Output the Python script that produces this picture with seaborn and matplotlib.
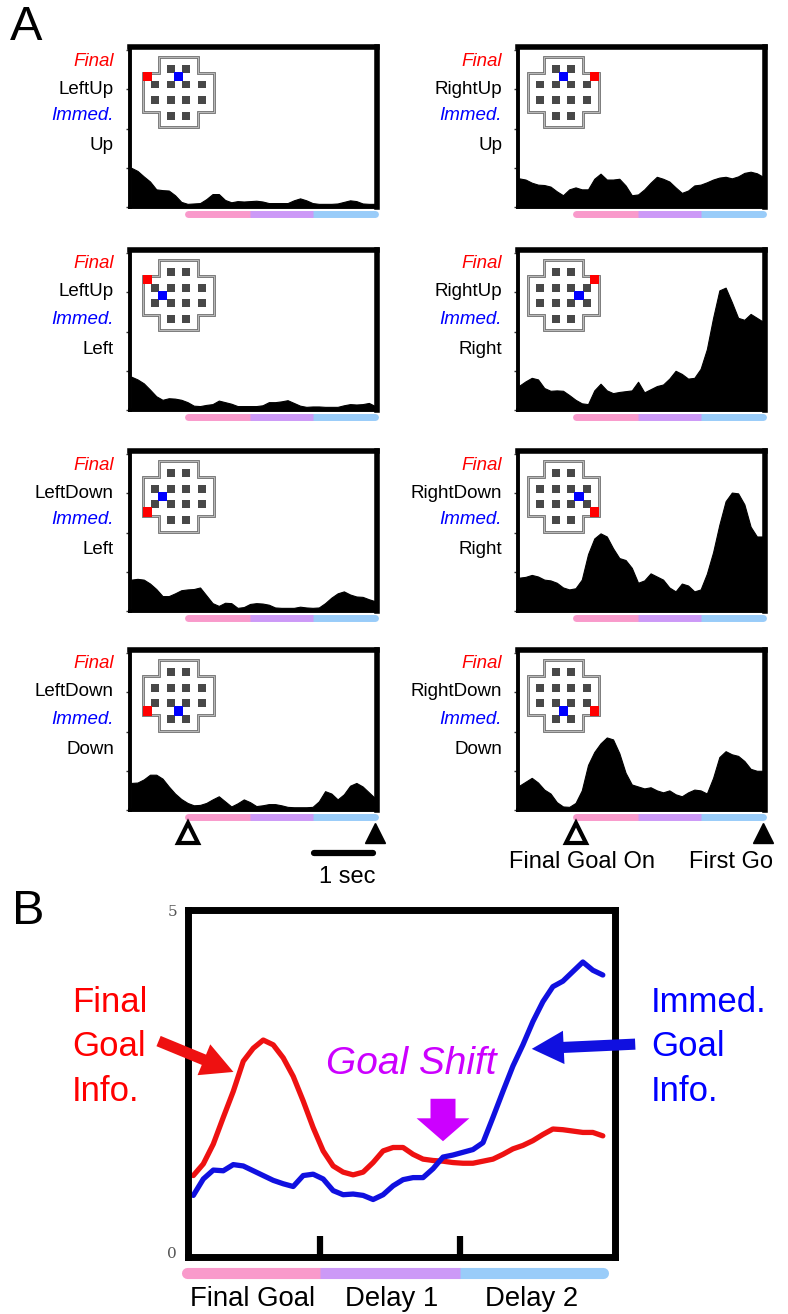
import numpy as np
import pandas as pd
import matplotlib
matplotlib.use("Agg")
import matplotlib.pyplot as plt
import matplotlib.patches as mpatches
import matplotlib.transforms as mtransforms
import seaborn as sns

# ---------------------------------------------------------------- data
# Panel A: peri-event firing histograms, bin centres in seconds
# relative to "Final Goal On" (0 s); "First Go" at 3 s.
t_a = np.round(np.arange(-0.9, 3.01, 0.1), 2)

left_up_up = [1.0, 0.92, 0.78, 0.65, 0.45, 0.43, 0.42, 0.3, 0.13, 0.08,
              0.09, 0.1, 0.2, 0.33, 0.33, 0.18, 0.12, 0.15, 0.14, 0.15,
              0.16, 0.14, 0.1, 0.1, 0.1, 0.1, 0.17, 0.22, 0.17, 0.1,
              0.08, 0.08, 0.08, 0.09, 0.13, 0.17, 0.15, 0.09, 0.08, 0.08]
left_up_left = [0.85, 0.78, 0.68, 0.52, 0.35, 0.26, 0.3, 0.29, 0.26, 0.2,
                0.11, 0.1, 0.13, 0.15, 0.24, 0.2, 0.16, 0.1, 0.1, 0.1,
                0.1, 0.12, 0.2, 0.2, 0.22, 0.25, 0.18, 0.11, 0.08, 0.09,
                0.09, 0.08, 0.08, 0.08, 0.12, 0.15, 0.14, 0.15, 0.18, 0.1]
left_down_left = [0.8, 0.82, 0.8, 0.7, 0.56, 0.38, 0.38, 0.45, 0.53, 0.55,
                  0.56, 0.6, 0.4, 0.2, 0.13, 0.21, 0.2, 0.08, 0.1, 0.18,
                  0.2, 0.19, 0.16, 0.09, 0.08, 0.08, 0.08, 0.11, 0.09, 0.08,
                  0.09, 0.2, 0.34, 0.45, 0.5, 0.42, 0.37, 0.36, 0.3, 0.25]
left_down_down = [0.69, 0.7, 0.78, 0.9, 0.9, 0.8, 0.6, 0.42, 0.28, 0.18,
                  0.12, 0.13, 0.18, 0.27, 0.35, 0.22, 0.09, 0.17, 0.27, 0.2,
                  0.1, 0.12, 0.15, 0.15, 0.12, 0.08, 0.07, 0.07, 0.07, 0.08,
                  0.22, 0.48, 0.42, 0.27, 0.4, 0.62, 0.69, 0.6, 0.45, 0.3]
right_up_up = [0.73, 0.7, 0.62, 0.57, 0.56, 0.52, 0.4, 0.3, 0.45, 0.5,
               0.45, 0.45, 0.72, 0.85, 0.7, 0.7, 0.72, 0.55, 0.3, 0.32,
               0.45, 0.62, 0.77, 0.72, 0.65, 0.5, 0.36, 0.42, 0.55, 0.57,
               0.63, 0.7, 0.75, 0.77, 0.73, 0.78, 0.87, 0.9, 0.86, 0.77]
right_up_right = [0.62, 0.73, 0.82, 0.78, 0.56, 0.49, 0.5, 0.49, 0.38, 0.26,
                  0.17, 0.15, 0.5, 0.67, 0.5, 0.43, 0.46, 0.48, 0.5, 0.72,
                  0.45, 0.53, 0.61, 0.65, 0.8, 1.0, 0.92, 0.8, 0.82, 1.05,
                  1.55, 2.35, 3.05, 3.12, 2.75, 2.35, 2.3, 2.45, 2.35, 2.25]
right_down_right = [0.85, 0.87, 0.92, 0.88, 0.8, 0.78, 0.72, 0.6, 0.55, 0.58,
                    0.8, 1.45, 1.85, 1.98, 1.9, 1.6, 1.35, 1.3, 1.1, 0.72,
                    0.78, 0.96, 0.88, 0.8, 0.6, 0.5, 0.7, 0.65, 0.5, 0.55,
                    0.95, 1.5, 2.2, 2.8, 3.02, 3.0, 2.72, 2.15, 1.9, 1.9]
right_down_down = [0.62, 0.72, 0.82, 0.7, 0.52, 0.42, 0.2, 0.09, 0.08, 0.18,
                   0.5, 1.15, 1.48, 1.7, 1.85, 1.8, 1.45, 0.95, 0.65, 0.6,
                   0.55, 0.58, 0.5, 0.45, 0.5, 0.4, 0.35, 0.45, 0.52, 0.5,
                   0.42, 0.82, 1.35, 1.5, 1.42, 1.38, 1.25, 1.05, 1.0, 1.0]

final_goals = ["LeftUp", "LeftUp", "LeftDown", "LeftDown",
               "RightUp", "RightUp", "RightDown", "RightDown"]
immed_goals = ["Up", "Left", "Left", "Down", "Up", "Right", "Right", "Down"]
histograms = [left_up_up, left_up_left, left_down_left, left_down_down,
              right_up_up, right_up_right, right_down_right, right_down_down]

epochs = ["Final Goal", "Delay 1", "Delay 2"]

# Panel B: population goal information over the trial (seconds)
t_b = np.linspace(0.095, 3.02, 42)
final_info = [1.12, 1.29, 1.58, 1.97, 2.35, 2.79, 2.98, 3.10, 3.03, 2.84,
              2.57, 2.21, 1.82, 1.48, 1.26, 1.17, 1.13, 1.17, 1.31, 1.48,
              1.53, 1.53, 1.43, 1.36, 1.34, 1.33, 1.31, 1.30, 1.30, 1.33,
              1.36, 1.43, 1.51, 1.56, 1.63, 1.72, 1.80, 1.79, 1.77, 1.75,
              1.75, 1.70]
immed_info = [0.83, 1.07, 1.20, 1.19, 1.28, 1.26, 1.19, 1.12, 1.05, 1.00,
              0.96, 1.12, 1.14, 1.07, 0.90, 0.84, 0.85, 0.83, 0.77, 0.84,
              0.97, 1.06, 1.09, 1.09, 1.22, 1.39, 1.42, 1.46, 1.50, 1.60,
              1.97, 2.35, 2.72, 3.03, 3.37, 3.66, 3.88, 3.96, 4.10, 4.24,
              4.12, 4.05]

# ---------------------------------------------------------------- style
sns.set_theme(style="white")
plt.rcParams["font.family"] = ["Liberation Sans", "DejaVu Sans"]
plt.rcParams["text.color"] = "black"

PINK, PURPLE, SKY = "#f99acb", "#cc99f7", "#99ccf9"
RED, BLUE, MAGENTA = "#ee1111", "#1010e0", "#cc00ff"
TXT_RED, TXT_BLUE = "#ff0000", "#0000ff"

W, H = 788, 1314
fig = plt.figure(figsize=(W / 100, H / 100), dpi=100)
fig.patch.set_facecolor("white")


def px_axes(x0, y0, w, h):
    """Axes placed by pixel box measured from the top-left corner."""
    return fig.add_axes([x0 / W, 1 - (y0 + h) / H, w / W, h / H])


def ftext(x, y, s, **kw):
    kw.setdefault("color", "black")
    fig.text(x / W, 1 - y / H, s, **kw)


def fxy(x, y):
    return (x / W, 1 - y / H)


def epoch_bar(ax, y, lw, spans):
    tr = mtransforms.blended_transform_factory(ax.transData, ax.transAxes)
    (a0, a1), (b0, b1), (c0, c1) = spans
    ax.plot([a0, a1], [y, y], color=PINK, lw=lw, solid_capstyle="round",
            transform=tr, clip_on=False)
    ax.plot([c0, c1], [y, y], color=SKY, lw=lw, solid_capstyle="round",
            transform=tr, clip_on=False)
    ax.plot([b0, b1], [y, y], color=PURPLE, lw=lw, solid_capstyle="butt",
            transform=tr, clip_on=False)


# Maze icon: cross-shaped arena with 12 squares, final target (red) and
# immediate step (blue) in grid units (column, row).
GRID_CELLS = [(1, 0), (2, 0), (0, 1), (1, 1), (2, 1), (3, 1),
              (0, 2), (1, 2), (2, 2), (3, 2), (1, 3), (2, 3)]
TARGET_POS = {"LeftUp": (-0.5, 0.5), "RightUp": (3.5, 0.5),
              "LeftDown": (-0.5, 2.5), "RightDown": (3.5, 2.5)}
STEP_POS = {"Up": (1.5, 0.5), "Left": (0.5, 1.5),
            "Right": (2.5, 1.5), "Down": (1.5, 2.5)}
OUTLINE = [(0.25, -0.75), (2.75, -0.75), (2.75, 0.25), (3.75, 0.25),
           (3.75, 2.75), (2.75, 2.75), (2.75, 3.75), (0.25, 3.75),
           (0.25, 2.75), (-0.75, 2.75), (-0.75, 0.25), (0.25, 0.25)]


def draw_icon(x0, y0, final, immed):
    cell = 15.6
    ax = px_axes(x0 - cell, y0 - cell, 5 * cell, 5 * cell)
    ax.set_xlim(-1, 4)
    ax.set_ylim(4, -1)
    ax.axis("off")
    ax.patch.set_alpha(0)
    ax.add_patch(mpatches.Polygon(OUTLINE, closed=True, fill=False,
                                  edgecolor="#707070", lw=2.0))
    ax.add_patch(mpatches.Polygon(OUTLINE, closed=True, fill=False,
                                  edgecolor="#d8d8d8", lw=0.5))
    s = 0.5
    for c, r in GRID_CELLS:
        ax.add_patch(mpatches.Rectangle((c - s / 2, r - s / 2), s, s,
                                        color="#484848", lw=0))
    s2 = 0.58
    for (c, r), col in ((TARGET_POS[final], "#ff0000"),
                        (STEP_POS[immed], "#0000ff")):
        ax.add_patch(mpatches.Rectangle((c - s2 / 2, r - s2 / 2), s2, s2,
                                        color=col, lw=0))


# ---------------------------------------------------------------- panel A
COL_X = [130, 518]
ROW_Y = [47, 250, 451, 650]
FW, FH = 247, 160

bottom_axes = []
for i, (final, immed, vals) in enumerate(zip(final_goals, immed_goals,
                                             histograms)):
    col, row = divmod(i, 4)
    x0, y0 = COL_X[col], ROW_Y[row]
    ax = px_axes(x0, y0, FW, FH)
    psth = pd.DataFrame({"time": t_a, "rate": vals})
    sns.histplot(data=psth, x="time", weights="rate", binwidth=0.1,
                 binrange=(-0.95, 3.05), element="poly", fill=True,
                 color="black", alpha=1, linewidth=0.8, edgecolor="black",
                 ax=ax)
    ax.set_xlim(-0.92, 3.03)
    ax.set_ylim(0, 4.08)
    ax.set_xlabel("")
    ax.set_ylabel("")
    ax.set_xticks([])
    ax.set_yticks([0, 1, 2, 3, 4])
    ax.set_yticklabels([])
    ax.tick_params(axis="y", left=True, direction="out", length=3,
                   width=1, color="#333333")
    for side, lw in (("top", 4), ("right", 4), ("left", 2.8),
                     ("bottom", 2.8)):
        ax.spines[side].set_visible(True)
        ax.spines[side].set_color("black")
        ax.spines[side].set_linewidth(lw)
    epoch_bar(ax, -0.044, 5, [(0, 1), (1, 2), (2, 3.0)])

    icon_dx = 25 if col == 0 else 22
    draw_icon(x0 + icon_dx, y0 + 22, final, immed)

    lx = x0 - 16
    ftext(lx, y0 + 14, "Final", color=TXT_RED, style="italic", fontsize=13.5,
          ha="right", va="center")
    ftext(lx, y0 + 42, final, fontsize=13.5, ha="right", va="center")
    ftext(lx, y0 + 69, "Immed.", color=TXT_BLUE, style="italic",
          fontsize=13.5, ha="right", va="center")
    ftext(lx, y0 + 99, immed, fontsize=13.5, ha="right", va="center")
    if row == 3:
        bottom_axes.append(ax)

# event markers and time scale under the bottom row
for ax in bottom_axes:
    tr = mtransforms.blended_transform_factory(ax.transData, ax.transAxes)
    ax.plot([0], [-0.145], marker="^", ms=14, mfc="white", mec="black",
            mew=3, transform=tr, clip_on=False)
    ax.plot([3.0], [-0.145], marker="^", ms=15, mfc="black", mec="black",
            mew=1, transform=tr, clip_on=False)
ax_l = bottom_axes[0]
tr_l = mtransforms.blended_transform_factory(ax_l.transData, ax_l.transAxes)
ax_l.plot([2.03, 2.97], [-0.27, -0.27], color="black", lw=4.5,
          solid_capstyle="round", transform=tr_l, clip_on=False)
ftext(347, 877, "1 sec", fontsize=17, ha="center", va="center")
ftext(582, 862, "Final Goal On", fontsize=17, ha="center", va="center")
ftext(731, 862, "First Go", fontsize=17, ha="center", va="center")

ftext(10, 28, "A", fontsize=35, ha="left", va="center")
ftext(12, 912, "B", fontsize=35, ha="left", va="center")

# ---------------------------------------------------------------- panel B
axB = px_axes(188, 910, 427, 347)
df = pd.DataFrame({
    "time": np.concatenate([t_b, t_b]),
    "info": np.concatenate([final_info, immed_info]),
    "goal": ["Final"] * len(t_b) + ["Immed."] * len(t_b),
})
sns.lineplot(data=df, x="time", y="info", hue="goal",
             palette={"Final": RED, "Immed.": BLUE}, estimator=None,
             lw=3.8, legend=False, ax=axB)
axB.set_xlim(0.057, 3.107)
axB.set_ylim(-0.07, 5.0)
axB.set_xlabel("")
axB.set_ylabel("")
axB.set_xticks([1, 2])
axB.set_xticklabels([])
axB.tick_params(axis="x", bottom=True, direction="in", length=15,
                width=4.5, color="black")
axB.set_yticks([0, 5])
axB.set_yticklabels(["0", "5"], fontsize=11, color="#555555",
                    family="DejaVu Serif")
axB.tick_params(axis="y", left=False, length=0, pad=8)
for side in ("top", "right", "left", "bottom"):
    axB.spines[side].set_visible(True)
    axB.spines[side].set_color("black")
    axB.spines[side].set_linewidth(5)
epoch_bar(axB, -0.046, 8, [(0.05, 1), (1, 2), (2, 3.02)])
for label, tc in zip(epochs, [0.52, 1.51, 2.51]):
    axB.text(tc, -0.12, label, fontsize=19.8, ha="center", va="center",
             color="black",
             transform=mtransforms.blended_transform_factory(
                 axB.transData, axB.transAxes))

# annotations
ftext(72, 1047, "Final\nGoal\nInfo.", color=TXT_RED, fontsize=25,
      ha="left", va="center", linespacing=1.45)
ftext(651, 1047, "Immed.\nGoal\nInfo.", color=TXT_BLUE, fontsize=25,
      ha="left", va="center", linespacing=1.45)
ftext(411, 1064, "Goal Shift", color=MAGENTA, fontsize=28, style="italic",
      ha="center", va="center")

arrow_style = "simple,head_length=2.3,head_width=2.4,tail_width=0.8"
fig.patches.append(mpatches.FancyArrowPatch(
    fxy(156, 1040), fxy(236, 1073), transform=fig.transFigure,
    arrowstyle=arrow_style, mutation_scale=10, color=RED, lw=0))
fig.patches.append(mpatches.FancyArrowPatch(
    fxy(638, 1044), fxy(529, 1049), transform=fig.transFigure,
    arrowstyle=arrow_style, mutation_scale=10, color=BLUE, lw=0))
fig.patches.append(mpatches.FancyArrowPatch(
    fxy(443, 1096), fxy(443, 1144), transform=fig.transFigure,
    arrowstyle="simple,head_length=1.65,head_width=3.8,tail_width=1.8",
    mutation_scale=10, color=MAGENTA, lw=0))

fig.savefig("out.png", dpi=100, facecolor="white")
